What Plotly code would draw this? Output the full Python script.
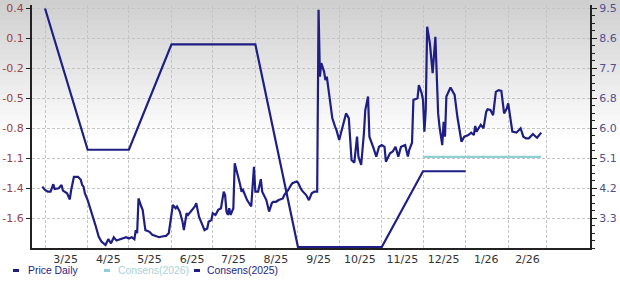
import plotly.graph_objects as go

# ---- data ----
price_dates = [
    "2025-02-27", "2025-03-01", "2025-03-03", "2025-03-05", "2025-03-07", "2025-03-08", "2025-03-11",
    "2025-03-13", "2025-03-14", "2025-03-17", "2025-03-19", "2025-03-20", "2025-03-22", "2025-03-25",
    "2025-03-27", "2025-03-28", "2025-03-29", "2025-03-30", "2025-04-01", "2025-04-04", "2025-04-06",
    "2025-04-07", "2025-04-09", "2025-04-11", "2025-04-14", "2025-04-16", "2025-04-18", "2025-04-20",
    "2025-04-22", "2025-04-25", "2025-04-29", "2025-05-01", "2025-05-03", "2025-05-05", "2025-05-06",
    "2025-05-07", "2025-05-08", "2025-05-10", "2025-05-11", "2025-05-13", "2025-05-16", "2025-05-18",
    "2025-05-20", "2025-05-23", "2025-05-25", "2025-05-28", "2025-05-30", "2025-06-01", "2025-06-02",
    "2025-06-04", "2025-06-05", "2025-06-07", "2025-06-09", "2025-06-10", "2025-06-12", "2025-06-13",
    "2025-06-16", "2025-06-18", "2025-06-19", "2025-06-21", "2025-06-23", "2025-06-25", "2025-06-27",
    "2025-06-28", "2025-06-30", "2025-07-01", "2025-07-03", "2025-07-05", "2025-07-07", "2025-07-09",
    "2025-07-10", "2025-07-11", "2025-07-12", "2025-07-13", "2025-07-14", "2025-07-16", "2025-07-17",
    "2025-07-19", "2025-07-21", "2025-07-22", "2025-07-23", "2025-07-26", "2025-07-29", "2025-07-31",
    "2025-08-01", "2025-08-03", "2025-08-05", "2025-08-06", "2025-08-08", "2025-08-09", "2025-08-11",
    "2025-08-13", "2025-08-14", "2025-08-16", "2025-08-18", "2025-08-21", "2025-08-22", "2025-08-25",
    "2025-08-27", "2025-08-28", "2025-08-31", "2025-09-01", "2025-09-03", "2025-09-04", "2025-09-07",
    "2025-09-09", "2025-09-11", "2025-09-13", "2025-09-15", "2025-09-16", "2025-09-17", "2025-09-18",
    "2025-09-20", "2025-09-21", "2025-09-22", "2025-09-24", "2025-09-26", "2025-09-28", "2025-09-29",
    "2025-10-01", "2025-10-03", "2025-10-06", "2025-10-08", "2025-10-10", "2025-10-12", "2025-10-14",
    "2025-10-15", "2025-10-17", "2025-10-19", "2025-10-20", "2025-10-22", "2025-10-23", "2025-10-26",
    "2025-10-28", "2025-10-30", "2025-11-01", "2025-11-03", "2025-11-04", "2025-11-07", "2025-11-09",
    "2025-11-11", "2025-11-13", "2025-11-15", "2025-11-18", "2025-11-20", "2025-11-21", "2025-11-23",
    "2025-11-24", "2025-11-27", "2025-11-28", "2025-11-30", "2025-12-01", "2025-12-02", "2025-12-03",
    "2025-12-04", "2025-12-06", "2025-12-08", "2025-12-10", "2025-12-12", "2025-12-13", "2025-12-15",
    "2025-12-16", "2025-12-17", "2025-12-18", "2025-12-21", "2025-12-22", "2025-12-24", "2025-12-26",
    "2025-12-29", "2025-12-31", "2026-01-03", "2026-01-05", "2026-01-07", "2026-01-08", "2026-01-09",
    "2026-01-10", "2026-01-12", "2026-01-14", "2026-01-16", "2026-01-17", "2026-01-19", "2026-01-21",
    "2026-01-23", "2026-01-25", "2026-01-27", "2026-01-29", "2026-01-31", "2026-02-01", "2026-02-02",
    "2026-02-04", "2026-02-07", "2026-02-10", "2026-02-12", "2026-02-14", "2026-02-16", "2026-02-19",
    "2026-02-21", "2026-02-22", "2026-02-25",
]
price_values = [
    4.22, 4.12, 4.07, 4.07, 4.29, 4.15, 4.17,
    4.27, 4.10, 4.02, 3.84, 4.12, 4.51, 4.51,
    4.42, 4.27, 4.22, 4.02, 3.82, 3.43, 3.23,
    3.03, 2.74, 2.59, 2.49, 2.66, 2.54, 2.72,
    2.62, 2.66, 2.72, 2.68, 2.72, 2.66, 2.93,
    2.84, 3.87, 3.63, 3.53, 2.93, 2.88, 2.79,
    2.76, 2.72, 2.74, 2.76, 2.84, 3.33, 3.68,
    3.58, 3.63, 3.48, 3.18, 2.93, 3.43, 3.38,
    3.53, 3.63, 3.73, 3.33, 3.13, 2.93, 2.98,
    3.18, 3.23, 3.43, 3.38, 3.53, 3.58, 4.07,
    3.97, 3.48, 3.38, 3.58, 3.38, 3.58, 4.91,
    4.62, 4.27, 4.07, 4.12, 3.82, 3.63, 4.81,
    4.07, 4.07, 4.44, 4.07, 3.92, 3.82, 3.48,
    3.73, 3.77, 3.77, 3.82, 3.87, 3.97, 4.12,
    4.27, 4.32, 4.37, 4.34, 4.17, 4.10, 3.97,
    3.82, 4.02, 4.07, 4.07, 9.46, 7.48, 7.88,
    7.63, 7.38, 7.48, 6.89, 6.25, 6.00, 5.90,
    5.60, 5.95, 6.39, 6.25, 5.01, 4.93, 5.70,
    5.11, 4.86, 5.80, 6.49, 6.89, 5.70, 5.36,
    5.11, 5.40, 5.45, 5.40, 4.96, 5.21, 5.26,
    5.40, 5.11, 5.40, 5.45, 5.11, 5.31, 5.52,
    6.79, 6.84, 7.23, 6.99, 6.79, 5.85, 6.49,
    8.96, 8.47, 7.58, 8.66, 6.39, 6.00, 5.45,
    6.14, 5.70, 6.89, 7.16, 7.08, 6.94, 6.29,
    5.55, 5.70, 5.75, 5.82, 5.75, 6.02, 5.85,
    5.92, 6.05, 5.95, 6.44, 6.51, 6.49, 6.34,
    7.03, 7.08, 7.06, 6.39, 6.54, 6.69, 6.44,
    5.85, 5.82, 5.95, 5.70, 5.65, 5.65, 5.78,
    5.70, 5.67, 5.82,
]

cons2025_dates = ["2025-03-01", "2025-04-01", "2025-05-01", "2025-06-01", "2025-07-01", "2025-08-01",
                  "2025-09-01", "2025-10-01", "2025-11-01", "2025-12-01", "2026-01-01"]
cons2025_values = [0.40, -0.98, -0.98, 0.05, 0.05, 0.05, -1.93, -1.93, -1.93, -1.19, -1.19]

cons2026_dates = ["2025-12-01", "2026-01-01", "2026-02-01", "2026-02-25"]
cons2026_values = [-1.05, -1.05, -1.05, -1.05]

month_label_dates = ["2025-03-16", "2025-04-16", "2025-05-16", "2025-06-16", "2025-07-16", "2025-08-16",
                     "2025-09-16", "2025-10-16", "2025-11-16", "2025-12-16", "2026-01-16", "2026-02-15"]
month_labels = ["3/25", "4/25", "5/25", "6/25", "7/25", "8/25", "9/25", "10/25", "11/25", "12/25",
                "1/26", "2/26"]
month_grid_dates = ["2025-03-01", "2025-04-01", "2025-05-01", "2025-06-01", "2025-07-01", "2025-08-01",
                    "2025-09-01", "2025-10-01", "2025-11-01", "2025-12-01", "2026-01-01", "2026-02-01",
                    "2026-03-01"]

left_tickvals = [0.4, 0.1075, -0.185, -0.4775, -0.77, -1.0625, -1.355, -1.6475]
left_ticktext = ["0.4", "0.1", "-0.2", "-0.5", "-0.8", "-1.1", "-1.4", "-1.6"]
right_tickvals = [9.5, 8.6125, 7.725, 6.8375, 5.95, 5.0625, 4.175, 3.2875]
right_ticktext = ["9.5", "8.6", "7.7", "6.8", "6.0", "5.1", "4.2", "3.3"]

legend_names = ["Price Daily", "Consens(2026)", "Consens(2025)"]

NAVY = "#1e1e84"
TEAL = "#8fd0d2"
TEAL_TXT = "#a9d2d8"
GRID = "#c4c4c4"
legend_colors = [NAVY, TEAL, NAVY]
legend_text_colors = [NAVY, TEAL_TXT, NAVY]

fig = go.Figure()

fig.add_trace(go.Scatter(x=cons2025_dates, y=cons2025_values, mode="lines", yaxis="y",
                         name="Consens(2025)", line=dict(color=NAVY, width=2.2), hoverinfo="skip"))
fig.add_trace(go.Scatter(x=cons2026_dates, y=cons2026_values, mode="lines", yaxis="y",
                         name="Consens(2026)", line=dict(color=TEAL, width=2.2), hoverinfo="skip"))
fig.add_trace(go.Scatter(x=price_dates, y=price_values, mode="lines", yaxis="y2",
                         name="Price Daily", line=dict(color=NAVY, width=2.2), hoverinfo="skip"))

W, H = 620, 288
ML, MR, MT, MB = 32, 30, 5, 40
pw, ph = W - ML - MR, H - MT - MB


def px_x(px):
    return (px - ML) / pw


def px_y(py):
    return (H - MB - py) / ph


# background gradient bands (figure top grey fading to white)
shapes = []
n_bands = 28
top_px, bot_px = 0.0, 140.0
for i in range(n_bands):
    y0px = top_px + (bot_px - top_px) * i / n_bands
    y1px = top_px + (bot_px - top_px) * (i + 1) / n_bands
    t = (i + 0.5) / n_bands
    c = int(round(206 + (255 - 206) * t))
    shapes.append(dict(type="rect", xref="paper", yref="paper",
                       x0=-0.1, x1=1.1, y0=px_y(y1px), y1=px_y(y0px),
                       fillcolor=f"rgb({c},{c},{c})", line=dict(width=0), layer="below"))

# custom legend: short thick dash + coloured text
annotations = []
legend_sym_px = [13, 104, 194]
legend_txt_px = [26, 116, 205]
leg_y = 270.5
for name, col, tcol, sx, tx in zip(legend_names, legend_colors, legend_text_colors,
                                   legend_sym_px, legend_txt_px):
    shapes.append(dict(type="line", xref="paper", yref="paper",
                       x0=px_x(sx), x1=px_x(sx + 6), y0=px_y(leg_y), y1=px_y(leg_y),
                       line=dict(color=col, width=3)))
    annotations.append(dict(xref="paper", yref="paper", x=px_x(tx), y=px_y(leg_y),
                            xanchor="left", yanchor="middle", showarrow=False, text=name,
                            font=dict(family="Liberation Sans", size=10.4, color=tcol)))

fig.update_layout(
    width=W, height=H,
    margin=dict(l=ML, r=MR, t=MT, b=MB, autoexpand=False),
    paper_bgcolor="white",
    plot_bgcolor="rgba(0,0,0,0)",
    shapes=shapes,
    annotations=annotations,
    font=dict(family="DejaVu Sans", size=11),
    showlegend=False,
    xaxis=dict(
        type="date",
        range=["2025-02-19 12:00", "2026-04-01 12:00"],
        tickmode="array", tickvals=month_label_dates, ticktext=month_labels,
        ticks="", showgrid=False, zeroline=False,
        showline=True, linecolor="#222222", linewidth=2,
        tickfont=dict(family="DejaVu Sans", size=11, color="#333333"),
        minor=dict(tickmode="array", tickvals=month_grid_dates, showgrid=True,
                   gridcolor=GRID, griddash="3px,2px", gridwidth=1, ticks=""),
    ),
    yaxis=dict(
        range=[-1.94, 0.434],
        tickmode="array", tickvals=left_tickvals, ticktext=left_ticktext,
        ticks="outside", ticklen=4, tickwidth=1, tickcolor="#222222",
        showgrid=True, gridcolor=GRID, griddash="3px,2px", gridwidth=1,
        zeroline=False, showline=True, linecolor="#222222", linewidth=2,
        tickfont=dict(family="DejaVu Sans", size=11, color="#9a4444"),
    ),
    yaxis2=dict(
        overlaying="y", side="right",
        range=[2.4, 9.604],
        tickmode="array", tickvals=right_tickvals, ticktext=right_ticktext,
        ticks="outside", ticklen=5, tickwidth=1, tickcolor="#222222",
        showgrid=False, zeroline=False,
        showline=True, linecolor="#222222", linewidth=2,
        tickfont=dict(family="DejaVu Sans", size=11, color="#50508e"),
        minor=dict(tick0=2.4, dtick=0.221875, ticks="outside", ticklen=3,
                   tickcolor="#222222", showgrid=False),
    ),
)

fig.write_html("out.html")
